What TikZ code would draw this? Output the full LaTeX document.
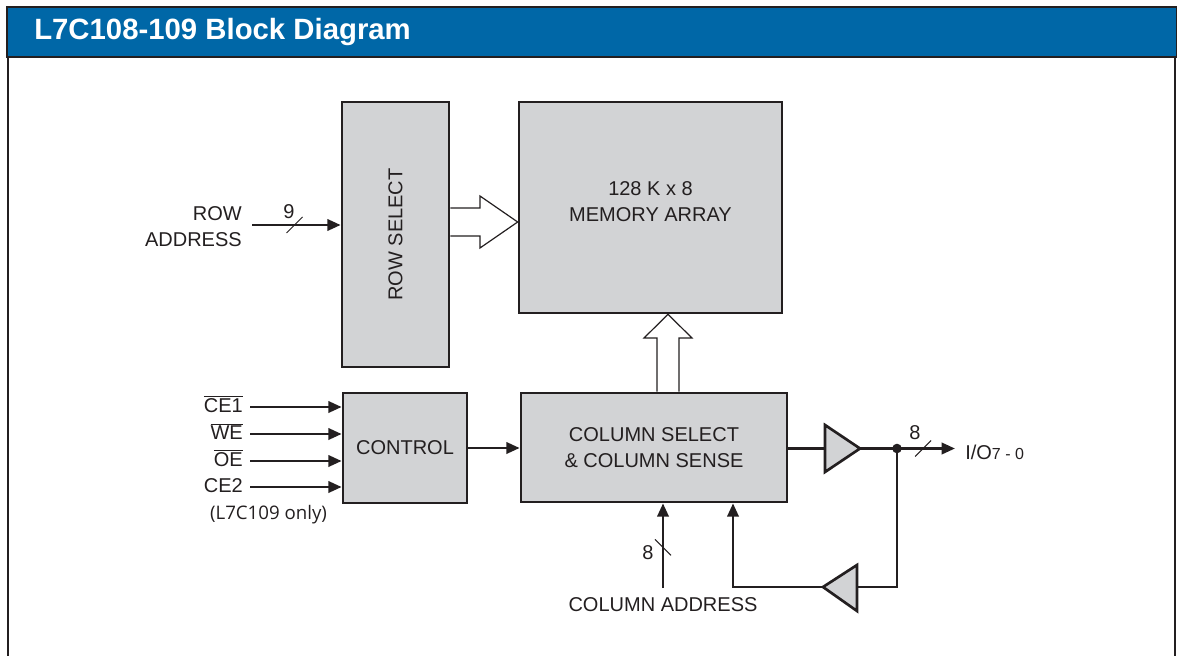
\documentclass[tikz,border=0pt]{standalone}
\usepackage{fontspec}
\setmainfont{Liberation Sans}
\newfontfamily\notefont{Open Sans}
\usetikzlibrary{arrows.meta,calc}
\definecolor{barblue}{RGB}{0,103,167}
\definecolor{boxgray}{RGB}{210,211,213}
\definecolor{inkgray}{RGB}{35,31,32}
\tikzset{
	block/.style={draw=inkgray,fill=boxgray,line width=2pt,inner sep=0pt,align=center,text=inkgray,font=\fontsize{15}{19}\selectfont},
	lbl/.style={inner sep=0pt,text=inkgray,font=\fontsize{15}{20}\selectfont},
	sig/.style={draw=inkgray,line width=2pt,-{Triangle[length=10pt,width=8.5pt]}},
	wire/.style={draw=inkgray,line width=2pt},
	busarrow/.style={draw=inkgray,fill=white,line width=0.9pt,line join=miter},
	buf/.style={draw=inkgray,fill=boxgray,line width=2pt,line join=miter},
	busslash/.style={draw=inkgray,line width=0.7pt}
}
\begin{document}
\begin{tikzpicture}[x=0.75pt,y=-0.75pt]
	\useasboundingbox (0,0) rectangle (1177,656);
	\draw [inkgray,line width=1.8pt](8,56)--(8,660) (1175,56)--(1175,660);
	\node at(6,6) [anchor=north west,draw=inkgray,fill=barblue,line width=1.8pt,inner sep=0pt,minimum width=877.5pt,minimum height=37.5pt] (bar){};
	\node at(34,40) [anchor=base west,inner sep=0pt,text=white,font=\fontsize{22}{24}\selectfont\bfseries] (title){L7C108-109 Block Diagram};
	\node at(395.5,234.5) [block,minimum width=80.25pt,minimum height=198.75pt] (rowsel){\rotatebox{90}{ROW SELECT}};
	\node at(650.5,207.5) [block,minimum width=197.25pt,minimum height=158.25pt] (mem){};
	\node at(650.5,201.5) [lbl,align=center] (memtext){128 K x 8\\MEMORY ARRAY};
	\node at(405,448) [block,minimum width=93pt,minimum height=82.5pt] (ctrl){CONTROL};
	\node at(654,447.5) [block,minimum width=199.5pt,minimum height=81.75pt] (col){COLUMN SELECT\\\& COLUMN SENSE};
	\draw [busarrow](rowsel.east |- 0,208)--(480,208)--(480,196)--(mem.west |- 0,222)--(480,248)--(480,236)--(rowsel.east |- 0,236);
	\draw [busarrow](col.north -| 657,0)--(657,338)--(644,338)--(mem.south -| 668,0)--(692,338)--(679,338)--(col.north -| 679,0);
	\node at(242,226.5) [lbl,align=right,anchor=east] (rowaddr){ROW\\ADDRESS};
	\coordinate (rowin) at(252,225);
	\draw [sig](rowin)--coordinate[pos=0.48] (s9) (rowin -| rowsel.west);
	\draw [busslash]($(s9)+(-8,8)$)--($(s9)+(8,-8)$);
	\node at(289,212) [lbl] (n9){9};
	\foreach \y/\t/\n in{407/{$\overline{\mbox{CE1}}$}/ce1,434/{$\overline{\mbox{WE}}$}/we,461/{$\overline{\mbox{OE}}$}/oe,487/{CE2}/ce2}{
		\node at(243,\y+5.5) [lbl,anchor=base east] (\n){\t};
		\coordinate (\n-in) at(250,\y);
		\draw [sig](\n-in)--(\n-in -| ctrl.west);
	}
	\node at(268.5,515) [lbl,font=\notefont\fontsize{14}{16}\selectfont] (only){(L7C109 only)};
	\draw [sig](ctrl.east)--(ctrl.east -| col.west);
	\coordinate (obin) at(825,448.5);
	\coordinate (obout) at(860,448.5);
	\coordinate (jn) at(897,448.5);
	\coordinate (ioend) at(955,448.5);
	\draw [wire](col.east |- obin)--(obin);
	\draw [buf](825,425)--(obout)--(825,472)--cycle;
	\draw [wire](obout)--(jn);
	\draw [sig](jn)--coordinate[pos=0.45] (s8o) (ioend);
	\draw [busslash]($(s8o)+(-8,8)$)--($(s8o)+(8,-8)$);
	\node at(915,433) [lbl] (n8o){8};
	\fill [inkgray](jn) circle(3.6pt);
	\node at(965,452) [lbl,anchor=west] (io){I/O{\fontsize{12}{12}\selectfont 7 - 0}};
	\coordinate (fbc) at(897,587);
	\coordinate (ibin) at(857,587);
	\coordinate (ibout) at(823,587);
	\coordinate (fbk) at(733,587);
	\draw [wire](jn)--(fbc)--(ibin);
	\draw [buf](857,565)--(ibout)--(857,611)--cycle;
	\draw [sig](ibout)--(fbk)--(col.south -| fbk);
	\node at(663,605) [lbl] (coladdr){COLUMN ADDRESS};
	\coordinate (cain) at(663,588);
	\draw [sig](cain)--coordinate[pos=0.48] (s8c) (col.south -| cain);
	\draw [busslash]($(s8c)+(-8,-8)$)--($(s8c)+(8,8)$);
	\node at(648,553) [lbl] (n8c){8};
\end{tikzpicture}
\end{document}
